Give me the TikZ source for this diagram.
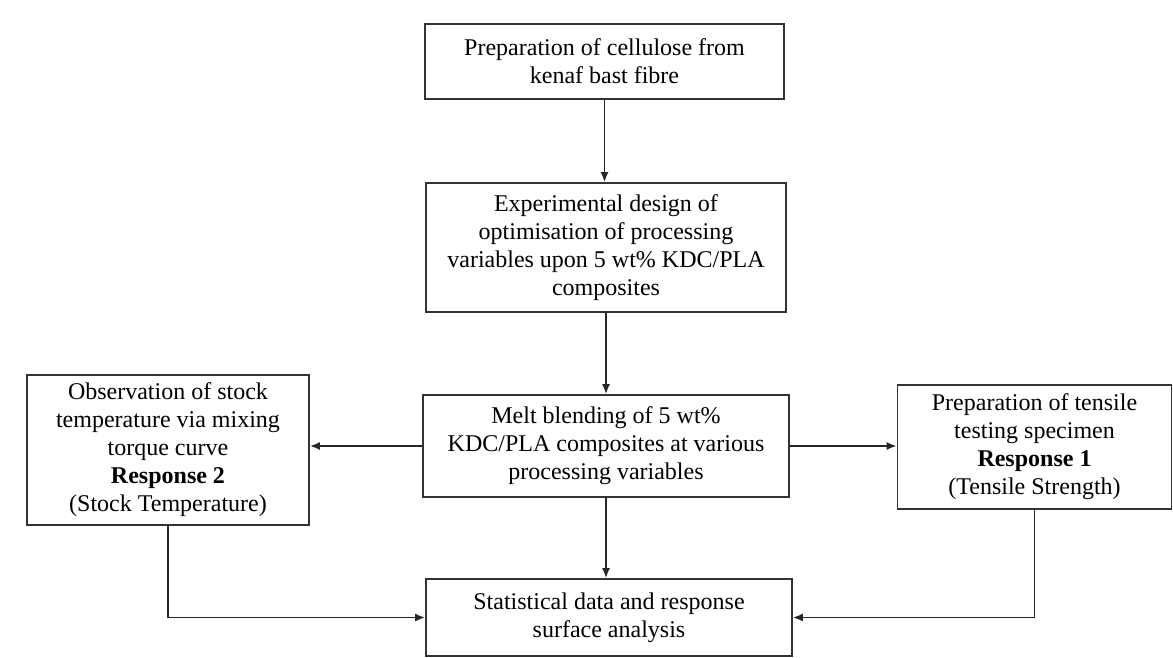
\documentclass[tikz,border=0pt]{standalone}
\usepackage{fontspec}
\setmainfont{Liberation Serif}
\usetikzlibrary{arrows.meta}
\begin{document}
\begin{tikzpicture}[
        x=0.5pt, y=-0.5pt,
        stepbox/.style={draw=black!80, line width=0.9pt, align=center, inner sep=0pt, font=\fontsize{12}{14}\selectfont},
        arrow/.style={black!85, ->, >={Latex[length=5pt, width=4pt]}, line width=0.8pt}
    ]
    \useasboundingbox (0,0) rectangle (1173,658);

    % ==========================================
    % MAIN COLUMN
    % ==========================================
    \node[stepbox, minimum width=179.5pt, minimum height=37.5pt] (prep) at (604.5,61.5)
        {Preparation of cellulose from\\kenaf bast fibre};
    \node[stepbox, minimum width=180pt, minimum height=64.5pt] (design) at (606,247.5)
        {Experimental design of\\optimisation of processing\\variables upon 5 wt\% KDC/PLA\\composites};
    \node[stepbox, minimum width=183pt, minimum height=51pt] (melt) at (606,446)
        {Melt blending of 5 wt\%\\KDC/PLA composites at various\\processing variables};
    \node[stepbox, minimum width=183pt, minimum height=38.5pt] (stat) at (609,617.5)
        {Statistical data and response\\surface analysis};

    % ==========================================
    % RESPONSES
    % ==========================================
    \node[stepbox, minimum width=141pt, minimum height=75pt] (stock) at (168,450)
        {Observation of stock\\temperature via mixing\\torque curve\\\textbf{Response 2}\\(Stock Temperature)};
    \node[stepbox, minimum width=137pt, minimum height=62pt] (tensile) at (1034.5,447)
        {Preparation of tensile\\testing specimen\\\textbf{Response 1}\\(Tensile Strength)};

    % arrows
    \draw[arrow] (prep.south) -- (prep.south |- design.north);
    \draw[arrow] (design.south) -- (design.south |- melt.north);
    \draw[arrow] (melt.south) -- (melt.south |- stat.north);
    \draw[arrow] (melt.west) -- (melt.west -| stock.east);
    \draw[arrow] (melt.east) -- (melt.east -| tensile.west);
    \draw[arrow] (stock.south) |- (stat.west);
    \draw[arrow] (tensile.south) |- (stat.east);

\end{tikzpicture}
\end{document}
